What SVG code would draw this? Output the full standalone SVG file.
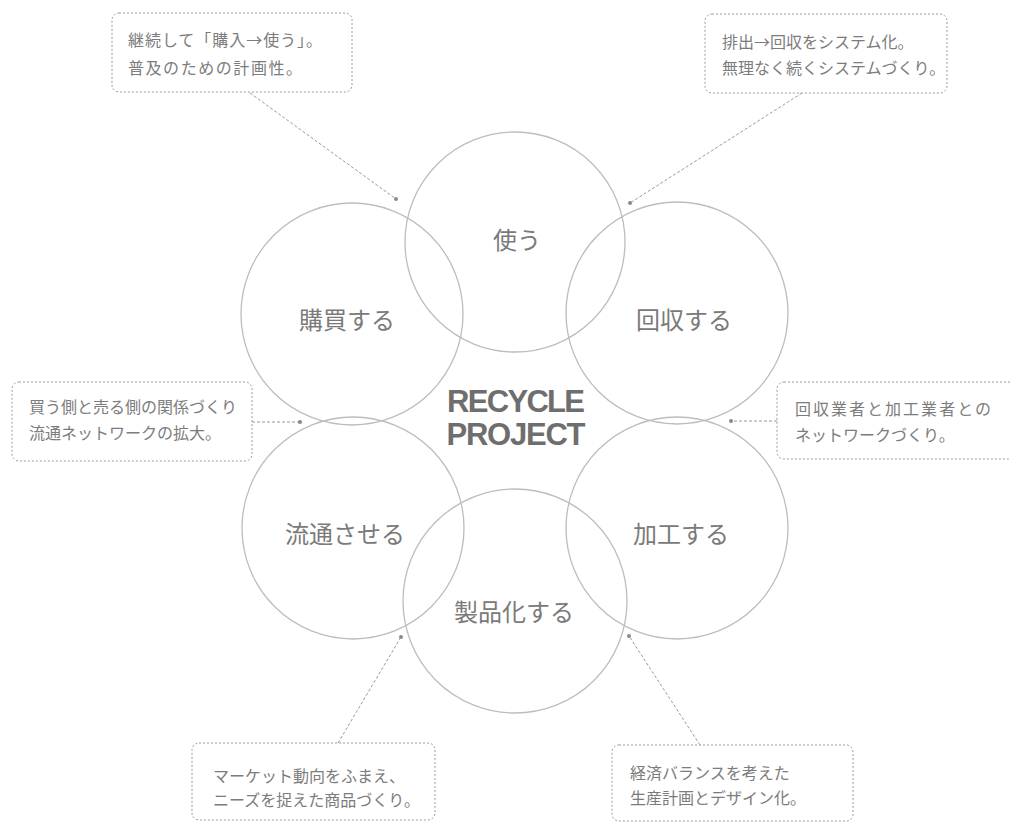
<svg xmlns="http://www.w3.org/2000/svg" width="1010" height="822" viewBox="0 0 1010 822">
<style>
.ring{fill:none;stroke:#bdbdbd;stroke-width:1.3}
.lbl{font-family:"Noto Sans CJK JP","Noto Sans",sans-serif;font-size:24px;fill:#7a7a7a;text-anchor:middle;dominant-baseline:central}
.box{fill:#fff;stroke:#9a9a9a;stroke-width:1;stroke-dasharray:2 2}
.note{font-family:"Noto Sans CJK JP","Noto Sans",sans-serif;font-size:16px;fill:#7c7c7c;dominant-baseline:central}
.lead{fill:none;stroke:#9a9a9a;stroke-width:1;stroke-dasharray:3 2}
.dot{fill:#8a8a8a}
.title{font-family:"Liberation Sans",Arial,sans-serif;font-weight:bold;font-size:31px;fill:#6e6e6e;text-anchor:middle}
</style>
<rect width="1010" height="822" fill="#fff"/>
<g id="circles">
<g id="n-tsukau"><circle class="ring" cx="515" cy="242" r="110"/><text class="lbl" x="517" y="238">使う</text></g>
<g id="n-kounyu"><circle class="ring" cx="352" cy="314" r="111"/><text class="lbl" x="347" y="318">購買する</text></g>
<g id="n-kaishu"><circle class="ring" cx="677" cy="313" r="111"/><text class="lbl" x="684" y="318">回収する</text></g>
<g id="n-ryutsu"><circle class="ring" cx="353" cy="528" r="111"/><text class="lbl" x="345" y="532">流通させる</text></g>
<g id="n-kakou"><circle class="ring" cx="677" cy="528" r="111"/><text class="lbl" x="681" y="532">加工する</text></g>
<g id="n-seihin"><circle class="ring" cx="515" cy="601" r="112"/><text class="lbl" x="514" y="610">製品化する</text></g>
</g>
<g id="center-title">
<text class="title" x="516" y="412" textLength="138">RECYCLE</text>
<text class="title" x="516" y="445" textLength="139">PROJECT</text>
</g>
<g id="connectors">
<line class="lead" x1="250" y1="93" x2="396" y2="199"/><circle class="dot" cx="396" cy="199" r="2"/>
<line class="lead" x1="802" y1="93" x2="630" y2="203"/><circle class="dot" cx="630" cy="203" r="2"/>
<line class="lead" x1="252" y1="422" x2="300" y2="422"/><circle class="dot" cx="300" cy="422" r="2"/>
<line class="lead" x1="777" y1="421" x2="731" y2="421"/><circle class="dot" cx="731" cy="421" r="2"/>
<line class="lead" x1="338" y1="743" x2="401" y2="637"/><circle class="dot" cx="401" cy="637" r="2"/>
<line class="lead" x1="700" y1="745" x2="629" y2="636"/><circle class="dot" cx="629" cy="636" r="2"/>
</g>
<g id="note-tl"><rect class="box" x="112" y="13" width="240" height="79" rx="7"/>
<text class="note" x="128" y="39" textLength="194">継続して「購入→使う」。</text>
<text class="note" x="128" y="67" textLength="174">普及のための計画性。</text></g>
<g id="note-tr"><rect class="box" x="705" y="14" width="242" height="79" rx="7"/>
<text class="note" x="722" y="41">排出→回収をシステム化。</text>
<text class="note" x="722" y="67">無理なく続くシステムづくり。</text></g>
<g id="note-ml"><rect class="box" x="12" y="382" width="240" height="79" rx="7"/>
<text class="note" x="29" y="406">買う側と売る側の関係づくり</text>
<text class="note" x="29" y="432">流通ネットワークの拡大。</text></g>
<g id="note-mr"><rect class="box" x="777" y="382" width="240" height="77" rx="7"/>
<text class="note" x="795" y="408" textLength="196">回収業者と加工業者との</text>
<text class="note" x="795" y="434">ネットワークづくり。</text></g>
<g id="note-bl"><rect class="box" x="192" y="743" width="243" height="77" rx="7"/>
<text class="note" x="213" y="775">マーケット動向をふまえ、</text>
<text class="note" x="213" y="799">ニーズを捉えた商品づくり。</text></g>
<g id="note-br"><rect class="box" x="612" y="745" width="241" height="76" rx="7"/>
<text class="note" x="630" y="772">経済バランスを考えた</text>
<text class="note" x="630" y="797">生産計画とデザイン化。</text></g>
</svg>
